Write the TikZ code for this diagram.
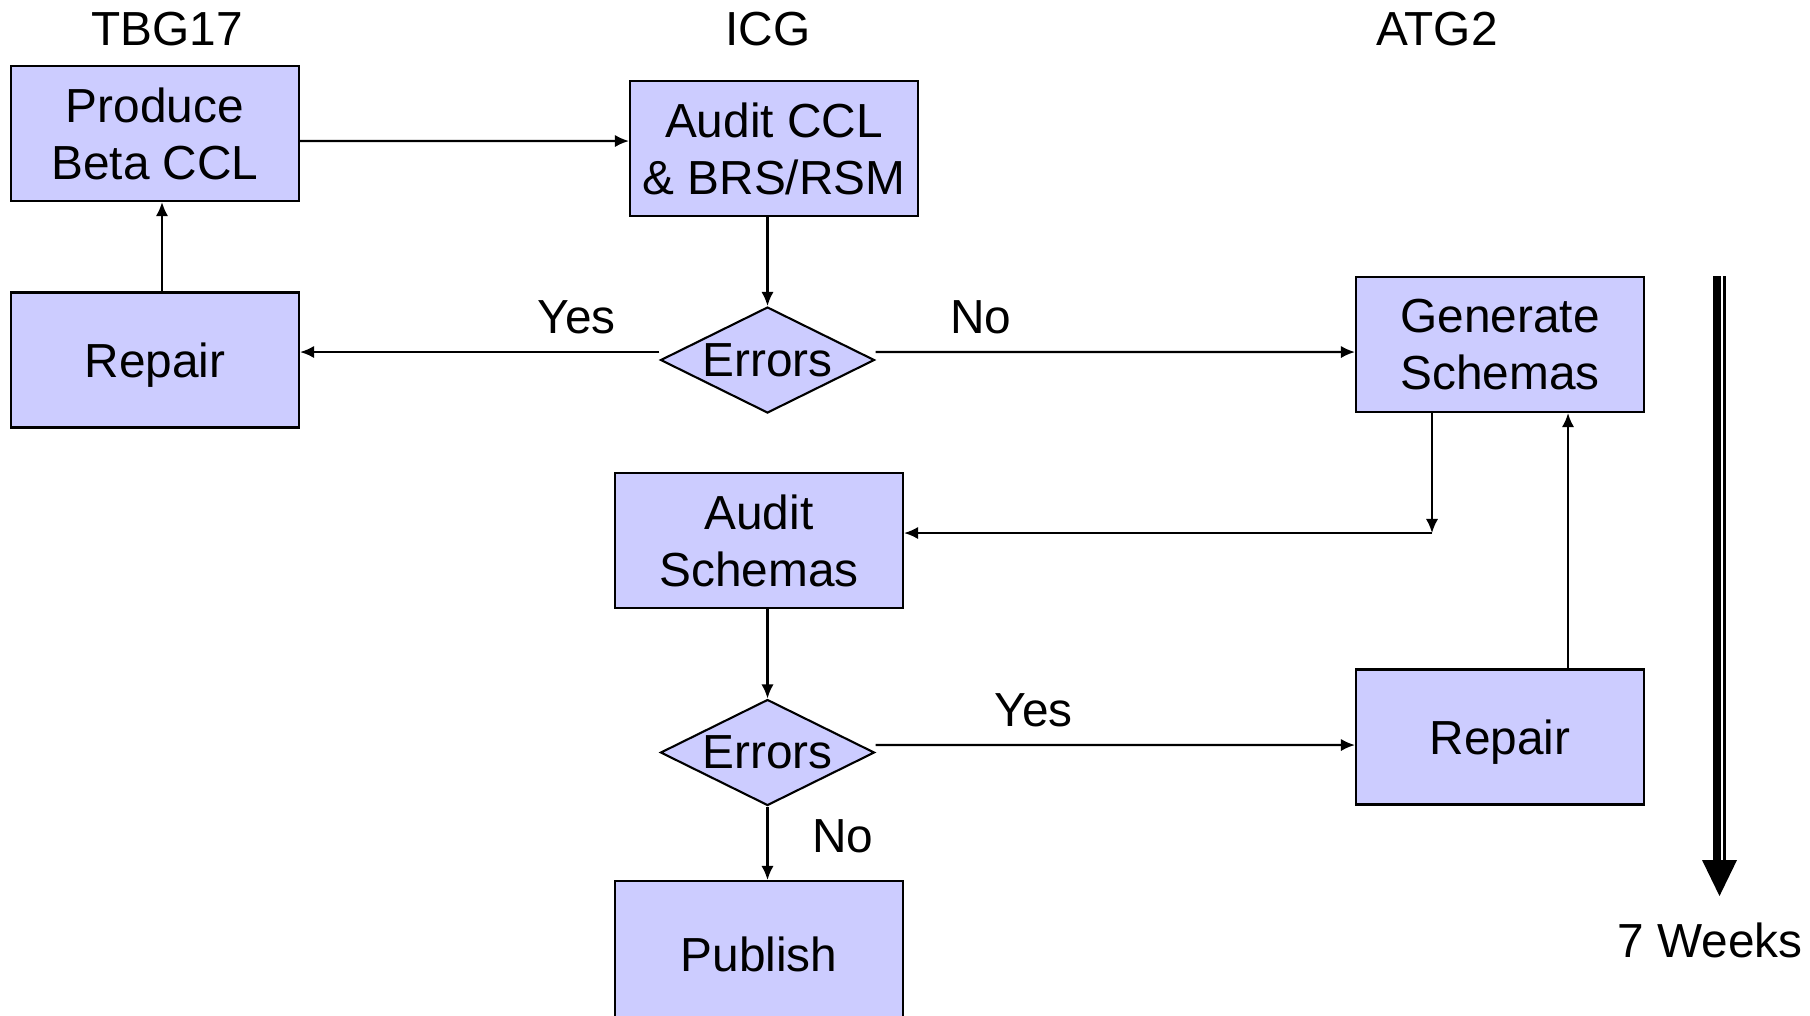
\documentclass[tikz,border=0pt]{standalone}
\usepackage{fontspec}
\setmainfont{Liberation Sans}
\usepackage{xcolor}
\usetikzlibrary{shapes.geometric,arrows.meta}
\definecolor{boxfill}{HTML}{CCCCFF}

\begin{document}
\begin{tikzpicture}[
    font=\fontsize{13.6}{16.1}\selectfont,
    stepbox/.style={draw, line width=0.6pt, fill=boxfill, minimum width=2.88cm, minimum height=1.35cm, align=center, inner sep=0pt, text depth=0pt},
    decision/.style={diamond, aspect=2, draw, line width=0.6pt, fill=boxfill, minimum width=2.14cm, minimum height=1.06cm, inner sep=0pt},
    lane/.style={inner sep=0pt},
    lbl/.style={inner sep=1pt},
    flow/.style={-{Latex[length=4pt,width=3.5pt]}, line width=0.6pt}
  ]
  \useasboundingbox (0,0) rectangle (18.10,-10.15);

  % groups
  \node[lane] (tbg) at (1.67,-0.29) {TBG17};
  \node[lane] (icg) at (7.68,-0.29) {ICG};
  \node[lane] (atg) at (14.37,-0.29) {ATG2};

  % steps
  \node[stepbox] (produce) at (1.55,-1.335) {Produce\\Beta CCL};
  \node[stepbox] (repairA) at (1.55,-3.60) {Repair};
  \node[stepbox] (auditccl) at (7.74,-1.485) {Audit CCL\\\& BRS/RSM};
  \node[decision] (errA) at (7.675,-3.60) {Errors};
  \node[stepbox] (generate) at (15.00,-3.445) {Generate\\Schemas};
  \node[stepbox] (audits) at (7.59,-5.405) {Audit\\Schemas};
  \node[decision] (errB) at (7.675,-7.525) {Errors};
  \node[stepbox] (repairB) at (15.00,-7.37) {Repair};
  \node[stepbox, minimum height=1.46cm] (publish) at (7.59,-9.54) {Publish};
  \coordinate (bend) at (14.32,-5.33);

  \path[flow]
    ([yshift=-0.75mm]produce.east) edge ([yshift=0.75mm]auditccl.west)
    ([xshift=0.7mm]repairA.north) edge ([xshift=0.7mm]produce.south)
    (auditccl.south -| errA.north) edge (errA.north)
    ([yshift=0.8mm]errA.west) edge node[lbl, pos=0.23, above=1.3mm] {Yes} ([yshift=0.8mm]repairA.east)
    ([yshift=0.8mm]errA.east) edge node[lbl, pos=0.22, above=1.3mm] {No} ([yshift=-0.75mm]generate.west)
    (generate.south -| bend) edge (bend)
    (bend) edge (audits.east |- bend)
    ([xshift=6.8mm]repairB.north) edge ([xshift=6.8mm]generate.south)
    (audits.south -| errB.north) edge (errB.north)
    ([yshift=0.75mm]errB.east) edge node[lbl, pos=0.33, above=1.3mm] {Yes} ([yshift=-0.8mm]repairB.west)
    (errB.south) edge node[lbl, pos=0.4, right=4mm] {No} (errB.south |- publish.north)
    ;

  % time line
  \coordinate (timetop) at (17.17,-2.76);
  \coordinate (timeend) at (17.17,-8.62);
  \draw[line width=0.08cm] (timetop) -- (timeend);
  \draw[line width=0.03cm] ([xshift=0.75mm]timetop) -- ([xshift=0.75mm]timeend);
  \fill (17.02,-8.60) -- (17.37,-8.60) -- (17.195,-8.96) -- cycle;
  \node[lane] (weeks) at (17.10,-9.40) {7 Weeks};
\end{tikzpicture}
\end{document}
